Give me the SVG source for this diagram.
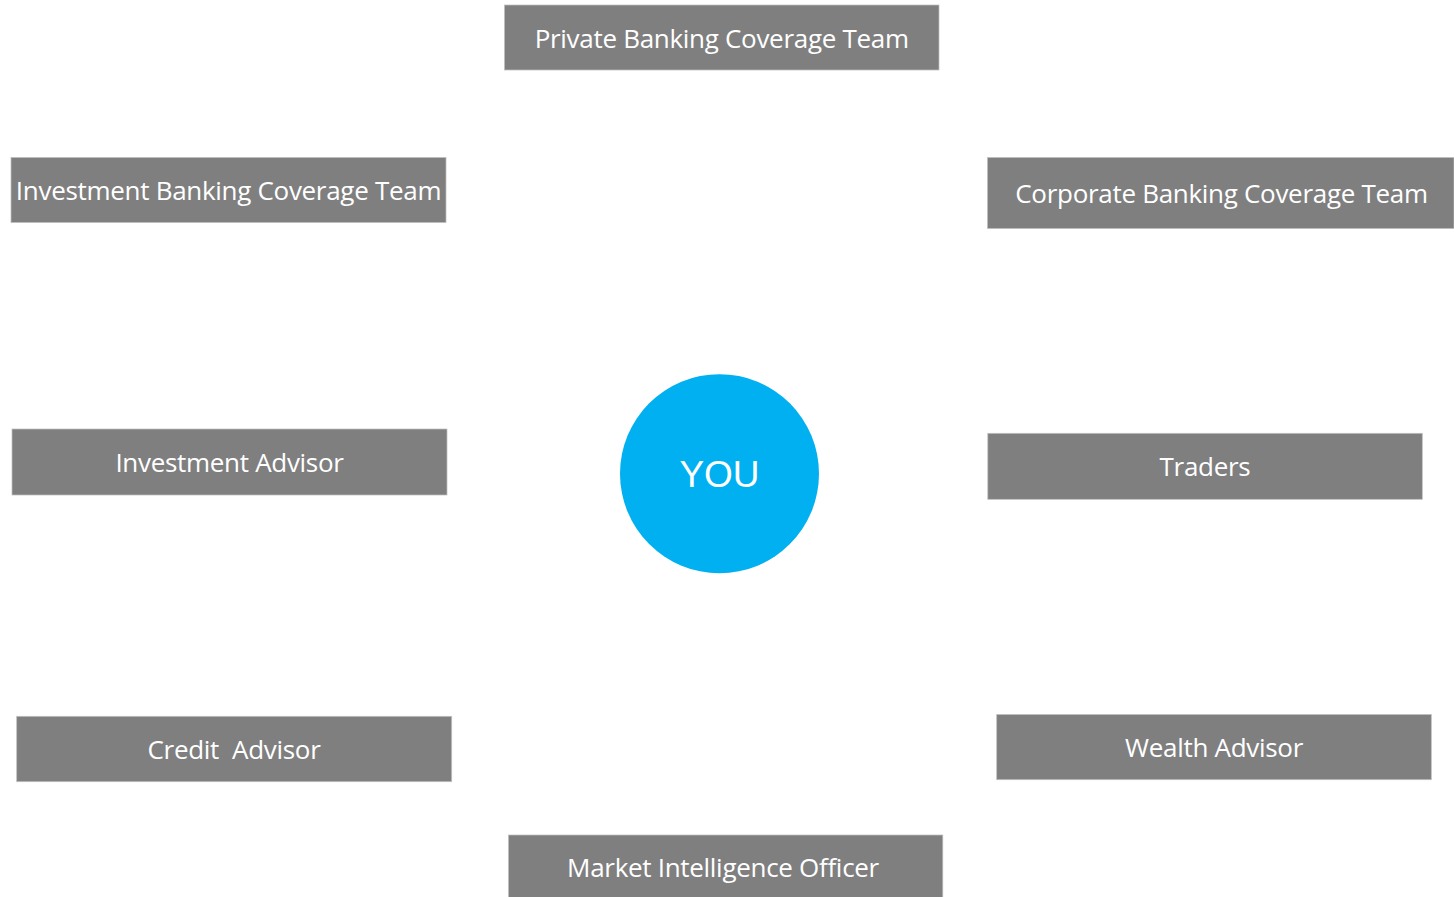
<svg xmlns="http://www.w3.org/2000/svg" width="1454" height="897" viewBox="0 0 1454 897">
  <style>
    .box { fill: #7f7f7f; stroke: #bfbfbf; stroke-width: 0.75; }
    .label { fill: #ffffff; font-family: "Open Sans", "Noto Sans", "DejaVu Sans", sans-serif; font-size: 26px; letter-spacing: -0.3px; text-anchor: middle; white-space: pre; }
    .you { fill: #00b0f0; }
    .you-label { fill: #ffffff; font-family: "Liberation Sans", Arial, sans-serif; font-size: 37px; text-anchor: middle; }
  </style>
  <rect width="1454" height="897" fill="#ffffff"/>
  <g id="connectors"></g>
  <g id="node-you">
    <circle class="you" cx="719.5" cy="473.7" r="99.5"/>
    <text class="you-label" x="719.5" y="487">YOU</text>
  </g>
  <g id="node-private-banking">
    <rect class="box" x="504.5" y="5" width="434.5" height="65"/>
    <text class="label" x="721.7" y="47.5">Private Banking Coverage Team</text>
  </g>
  <g id="node-investment-banking">
    <rect class="box" x="11" y="157.5" width="435" height="65"/>
    <text class="label" x="228.5" y="199.5">Investment Banking Coverage Team</text>
  </g>
  <g id="node-corporate-banking">
    <rect class="box" x="987.5" y="157.5" width="466.5" height="71"/>
    <text class="label" x="1221.5" y="202.5">Corporate Banking Coverage Team</text>
  </g>
  <g id="node-investment-advisor">
    <rect class="box" x="12" y="429" width="435" height="66"/>
    <text class="label" x="229.5" y="471.5">Investment Advisor</text>
  </g>
  <g id="node-traders">
    <rect class="box" x="987.8" y="433.3" width="434.5" height="66"/>
    <text class="label" x="1205" y="475.5">Traders</text>
  </g>
  <g id="node-credit-advisor">
    <rect class="box" x="16.7" y="716.3" width="435" height="65.4"/>
    <text class="label" x="234" y="758.5" xml:space="preserve">Credit  Advisor</text>
  </g>
  <g id="node-wealth-advisor">
    <rect class="box" x="996.7" y="714.5" width="434.6" height="65.2"/>
    <text class="label" x="1214" y="756.5">Wealth Advisor</text>
  </g>
  <g id="node-market-intelligence">
    <rect class="box" x="508.5" y="835" width="434.3" height="63"/>
    <text class="label" x="723" y="876.5">Market Intelligence Officer</text>
  </g>
</svg>
